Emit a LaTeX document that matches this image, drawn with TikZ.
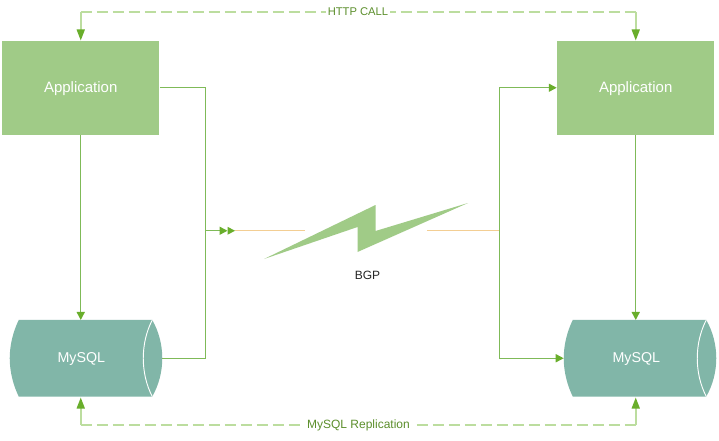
\documentclass[tikz,border=0pt]{standalone}
\usepackage{fontspec}
\setmainfont{Liberation Sans}
\usetikzlibrary{arrows.meta}
\definecolor{boxgreen}{HTML}{A0CB87}
\definecolor{dbteal}{HTML}{81B6A8}
\definecolor{linegreen}{HTML}{7FBA58}
\definecolor{tipgreen}{HTML}{69AE2B}
\definecolor{dashgreen}{HTML}{BCDD9F}
\definecolor{wire}{HTML}{F3CE93}
\definecolor{labelgreen}{HTML}{5C8F2C}
\tikzset{
  x=0.75pt,y=-0.75pt,
  appbox/.style={rectangle,fill=boxgreen,draw=none,minimum width=118.1pt,minimum height=70.5pt,inner sep=0pt,text=white,font=\fontsize{11.25}{13}\selectfont},
  dbanchor/.style={rectangle,draw=none,minimum width=114pt,minimum height=57pt,inner sep=0pt},
  dbtext/.style={dbanchor,minimum width=10pt,text=white,font=\fontsize{10.7}{13}\selectfont},
  dbbody/.style={fill=dbteal,draw=none},
  dbarc/.style={draw=white,line width=0.7pt},
  tip/.style={-{Triangle[length=6pt,width=6pt,fill=tipgreen,color=tipgreen]}},
  bigtip/.style={-{Triangle[length=8.25pt,width=6pt,fill=tipgreen,color=tipgreen]}},
  solidlink/.style={draw=linegreen,line width=1.1pt},
  dashlink/.style={draw=dashgreen,line width=1.2pt,dash pattern=on 8.25pt off 3.75pt},
  feed/.style={draw=dashgreen,line width=1.2pt},
  wireline/.style={draw=wire,line width=0.9pt},
  flash/.style={fill=boxgreen,draw=none},
  linklabel/.style={fill=white,inner xsep=1.5pt,inner ysep=1pt,text=labelgreen},
}
\newcommand{\dbshape}[1]{%
  \fill[dbbody] ([xshift=6.75pt]#1.north west) -- ([xshift=-7.5pt]#1.north east)
    .. controls ([xshift=-2.55pt,yshift=-8.7pt]#1.north east) and ([yshift=10pt]#1.east) .. (#1.east)
    .. controls ([yshift=-10pt]#1.east) and ([xshift=-2.55pt,yshift=8.7pt]#1.south east) .. ([xshift=-7.5pt]#1.south east)
    -- ([xshift=6.75pt]#1.south west)
    .. controls ([xshift=2.55pt,yshift=8.7pt]#1.south west) and ([yshift=-10pt]#1.west) .. (#1.west)
    .. controls ([yshift=10pt]#1.west) and ([xshift=2.55pt,yshift=-8.7pt]#1.north west) .. ([xshift=6.75pt]#1.north west) -- cycle;
  \draw[dbarc] ([xshift=-7.5pt]#1.north east)
    .. controls ([xshift=-12pt,yshift=-8.7pt]#1.north east) and ([xshift=-14.25pt,yshift=10pt]#1.east) .. ([xshift=-14.25pt]#1.east)
    .. controls ([xshift=-14.25pt,yshift=-10pt]#1.east) and ([xshift=-12pt,yshift=8.7pt]#1.south east) .. ([xshift=-7.5pt]#1.south east);
}
\begin{document}
\begin{tikzpicture}
\useasboundingbox[fill=white] (0,0) rectangle (719,440);
% boxes
\node[appbox] (app1) at (80.75,87.75) {\raisebox{-3.75pt}[0pt][0pt]{Application}};
\node[appbox] (app2) at (635.75,87.75) {\raisebox{-3.75pt}[0pt][0pt]{Application}};
\node[dbanchor] (db1) at (86,358.25) {};
\node[dbanchor] (db2) at (640,358.25) {};
\dbshape{db1}
\dbshape{db2}
\node[dbtext] (dbt1) at (81.3,358.25) {\raisebox{-3.5pt}[0pt][0pt]{MySQL}};
\node[dbtext] (dbt2) at (636.3,358.25) {\raisebox{-3.5pt}[0pt][0pt]{MySQL}};
% lightning
\fill[flash] (264,259) -- (375.5,205) -- (375.5,231) -- (468,203) -- (357.5,252) -- (357.5,227) -- cycle;
\node[text=black!85,font=\fontsize{9}{11}\selectfont] (bgp) at (367.5,275) {BGP};
% junctions
\coordinate (jl) at (205.75,230.75);
\coordinate (jr) at (499.75,230.75);
\coordinate (wl) at (305,230.5);
\coordinate (wr) at (427,230.5);
\coordinate (tipa) at (227.5,230.75);
\coordinate (tipb) at (235,230.5);
% orange wires
\draw[wireline] (tipb) -- (wl);
\draw[wireline] (wr) -- (jr |- wr);
% solid links
\draw[solidlink,tip] (app1.south) -- (app1.south |- dbt1.north);
\draw[solidlink,tip] (app2.south) -- (app2.south |- dbt2.north);
\draw[solidlink] (app1.east) -| (jl);
\draw[solidlink] (db1.east) -| (jl);
\draw[solidlink,tip] (jl) -- (tipa);
\fill[tipgreen] (227.5,226.75) -- (235,230.75) -- (227.5,234.75) -- cycle;
\draw[solidlink,tip] (jr) |- (app2.west);
\draw[solidlink,tip] (jr) |- (db2.west);
% dashed links
\coordinate (httpl) at (80.75,12);
\coordinate (httpr) at (635.75,12);
\coordinate (repl) at (80.75,425);
\coordinate (repr) at (635.75,425);
\draw[dashlink] (httpl) -- (httpr);
\draw[feed,bigtip] (httpl) -- (app1.north);
\draw[feed,bigtip] (httpr) -- (app2.north);
\draw[dashlink] (repl) -- (repr);
\draw[feed,bigtip] (repl) -- ([yshift=-0.75pt]repl |- dbt1.south);
\draw[feed,bigtip] (repr) -- ([yshift=-0.75pt]repr |- dbt2.south);
\node[linklabel,font=\fontsize{8.4}{11}\selectfont] (http) at (358,12) {HTTP CALL};
\node[linklabel,font=\fontsize{9}{11}\selectfont] (rep) at (358.5,425) {MySQL Replication};
\end{tikzpicture}
\end{document}
